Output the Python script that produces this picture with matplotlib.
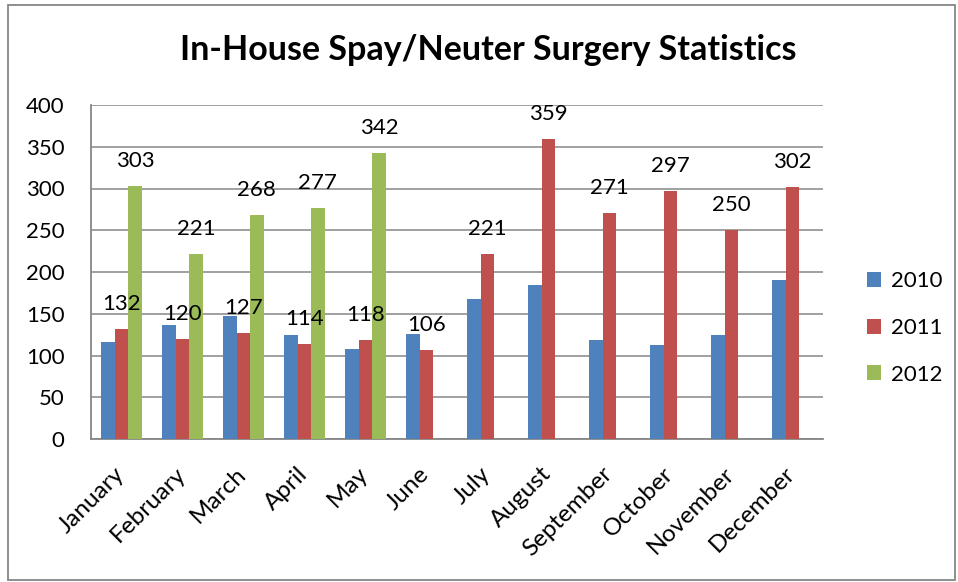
import matplotlib
matplotlib.use("Agg")
import matplotlib.pyplot as plt
import numpy as np
from matplotlib.patches import Rectangle

months = ["January", "February", "March", "April", "May", "June", "July",
          "August", "September", "October", "November", "December"]
s2010 = [116, 137, 147, 124, 108, 126, 168, 185, 118, 112, 124, 190]
s2011 = [132, 120, 127, 114, 118, 106, 221, 359, 271, 297, 250, 302]
s2012 = [303, 221, 268, 277, 342, None, None, None, None, None, None, None]
series_names = ["2010", "2011", "2012"]
colors = ["#4F81BD", "#C0504D", "#9BBB59"]
yticks = [0, 50, 100, 150, 200, 250, 300, 350, 400]

FONT = "Lato"
plt.rcParams['font.family'] = [FONT, 'DejaVu Sans']

fig = plt.figure(figsize=(9.58, 5.82), dpi=100)
ax = fig.add_axes([91/958, 1-439/582, (823-91)/958, (439-105)/582])

x = np.arange(len(months))
w = 0.22
all_series = [s2010, s2011, s2012]
for i, (vals, c, name) in enumerate(zip(all_series, colors, series_names)):
    xs = [xi + (i-1)*w for xi, v in zip(x, vals) if v is not None]
    vs = [v for v in vals if v is not None]
    ax.bar(xs, vs, width=w, color=c, label=name, zorder=3,
           edgecolor='none')
    if i > 0:
        for xi, v in zip(xs, vs):
            ax.annotate(str(v), (xi, v), xytext=(0, 19), textcoords='offset pixels',
                        ha='center', va='baseline', fontsize=16, color='black', zorder=5)

ax.set_xlim(-0.5, len(months)-0.5)
ax.set_ylim(0, 400)
ax.set_yticks(yticks)
ax.set_yticklabels([str(t) for t in yticks], fontsize=16)
ax.set_xticks(x)
ax.set_xticklabels([])
for xi, m in zip(x, months):
    ax.annotate(m, (xi, 0), xycoords=('data', 'axes fraction'), xytext=(-8, -24),
                textcoords='offset pixels', rotation=45, ha='right', va='top',
                rotation_mode='anchor', fontsize=17.5, annotation_clip=False)
ax.tick_params(axis='y', length=0, pad=19)
ax.tick_params(axis='x', length=0)
ax.yaxis.grid(True, color='#868686', linewidth=1.1, zorder=0)
ax.set_axisbelow(True)
for s in ['top', 'right']:
    ax.spines[s].set_visible(False)
for s in ['left', 'bottom']:
    ax.spines[s].set_color('#868686')
    ax.spines[s].set_linewidth(1.3)

fig.text(488/958, 1-59.5/582, "In-House Spay/Neuter Surgery Statistics",
         ha='center', va='baseline', fontsize=24.5, fontweight='bold')

handles, labels = ax.get_legend_handles_labels()
leg = fig.legend(handles, labels, loc='center left', bbox_to_anchor=(847/958, 1-328/582),
                 frameon=False, fontsize=16, handlelength=0.65, handleheight=0.65,
                 labelspacing=1.2, handletextpad=0.45)

fig.patches.append(Rectangle((8/958, 1-580/582), (955-8)/958, (580-5)/582,
                             transform=fig.transFigure, fill=False,
                             edgecolor='#868686', linewidth=1.3))

fig.savefig("out.png", dpi=100)
